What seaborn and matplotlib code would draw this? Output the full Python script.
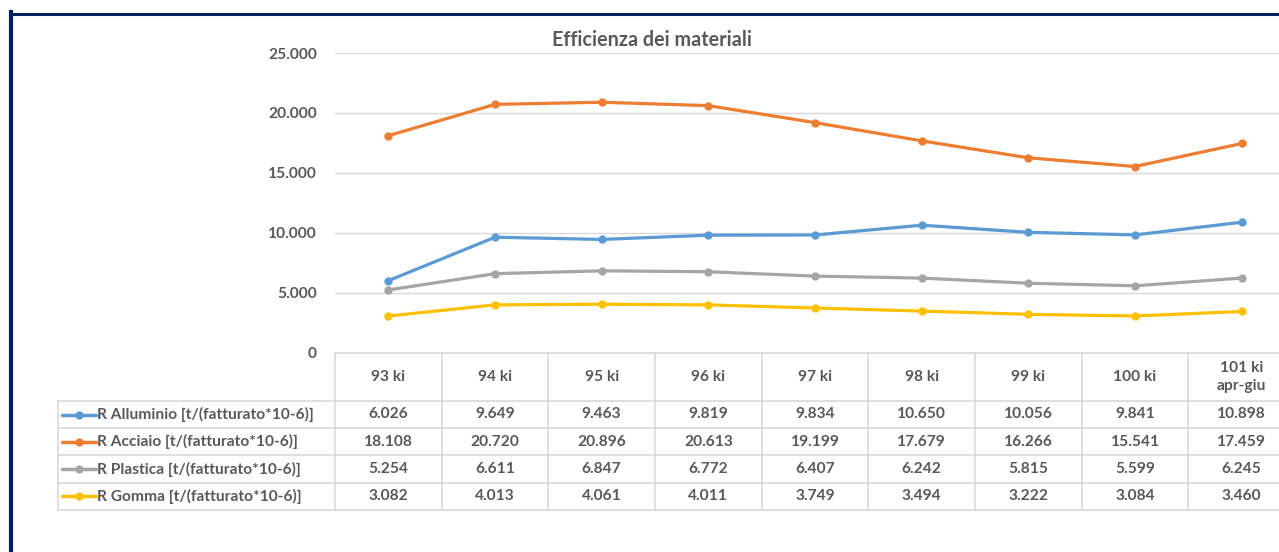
import pandas as pd
import numpy as np
import matplotlib
matplotlib.use("Agg")
import matplotlib.pyplot as plt
import matplotlib.transforms as mtransforms
from matplotlib.lines import Line2D
from matplotlib.ticker import FuncFormatter
import seaborn as sns

# dati
periodi = ["93 ki", "94 ki", "95 ki", "96 ki", "97 ki", "98 ki", "99 ki", "100 ki", "101 ki\napr-giu"]
serie = [
    "R Alluminio [t/(fatturato*10-6)]",
    "R Acciaio [t/(fatturato*10-6)]",
    "R Plastica [t/(fatturato*10-6)]",
    "R Gomma [t/(fatturato*10-6)]",
]
alluminio = [6026, 9649, 9463, 9819, 9834, 10650, 10056, 9841, 10898]
acciaio = [18108, 20720, 20896, 20613, 19199, 17679, 16266, 15541, 17459]
plastica = [5254, 6611, 6847, 6772, 6407, 6242, 5815, 5599, 6245]
gomma = [3082, 4013, 4061, 4011, 3749, 3494, 3222, 3084, 3460]
colori = ["#5b9bd5", "#ed7d31", "#a5a5a5", "#ffc000"]

valori = [alluminio, acciaio, plastica, gomma]
df = pd.DataFrame({
    "pos": list(range(len(periodi))) * len(serie),
    "valore": [v for s in valori for v in s],
    "serie": [n for n in serie for _ in periodi],
})

sns.set_style("white")
plt.rcParams["font.family"] = ["Lato", "DejaVu Sans"]
testo = "#595959"
griglia = "#d9d9d9"
fs = 11.2

W, H = 1279, 552
fig = plt.figure(figsize=(W / 100, H / 100), dpi=100)
# area del grafico: x da 335 a 1295 px, y da 53 a 353 px
ax = fig.add_axes([335 / W, (H - 353) / H, 960 / W, 300 / H])

sns.lineplot(data=df, x="pos", y="valore", hue="serie", palette=colori,
             marker="o", markersize=6, markeredgewidth=0, linewidth=2.3,
             legend=False, ax=ax)

ax.set_xlim(-0.5, len(periodi) - 0.5)
ax.set_ylim(0, 25000)
ax.set_yticks(range(0, 25001, 5000))
ax.yaxis.set_major_formatter(FuncFormatter(lambda v, p: f"{int(v):,}".replace(",", ".")))
ax.set_xticks([])
ax.set_xlabel("")
ax.set_ylabel("")
ax.grid(axis="y", color=griglia, linewidth=1)
for s in ax.spines.values():
    s.set_visible(False)
ax.tick_params(axis="y", length=0, pad=13, labelcolor=testo, labelsize=fs)
for t in ax.get_yticklabels():
    t.set_fontweight("bold")

fig.text(652 / W, 1 - 40 / H, "Efficienza dei materiali", ha="center", va="center",
         fontsize=14.2, fontweight="bold", color=testo)

# tabella dati sotto il grafico
bl = mtransforms.blended_transform_factory(ax.transData, ax.transAxes)
bordi = [0, -0.16, -0.25, -0.34, -0.4333, -0.5233]
sinistra = (58 - 335) / 960
lw = 1.2
ax.plot([-0.5, len(periodi)], [0, 0], transform=bl, color=griglia, lw=lw, clip_on=False)
for yb in bordi[1:]:
    ax.plot([sinistra, 1.1], [yb, yb], transform=ax.transAxes, color=griglia, lw=lw, clip_on=False)
for i in range(len(periodi) + 1):
    ax.plot([i - 0.5, i - 0.5], [0, bordi[-1]], transform=bl, color=griglia, lw=lw, clip_on=False)
ax.plot([sinistra, sinistra], [bordi[1], bordi[-1]], transform=ax.transAxes, color=griglia, lw=lw, clip_on=False)

for i, p in enumerate(periodi):
    ax.text(i, (bordi[0] + bordi[1]) / 2, p, transform=bl, ha="center", va="center",
            fontsize=fs, fontweight="bold", color=testo, linespacing=1.3)

for r, (nome, vals, col) in enumerate(zip(serie, valori, colori)):
    yc = (bordi[r + 1] + bordi[r + 2]) / 2
    ax.add_line(Line2D([(62 - 335) / 960, (96 - 335) / 960], [yc, yc], transform=ax.transAxes,
                       color=col, lw=2.5, clip_on=False))
    ax.add_line(Line2D([(79 - 335) / 960], [yc], transform=ax.transAxes, marker="o",
                       markersize=6, markeredgewidth=0, color=col, clip_on=False))
    ax.text((97 - 335) / 960, yc, nome, transform=ax.transAxes, ha="left", va="center",
            fontsize=fs, fontweight="bold", color=testo)
    for i, v in enumerate(vals):
        ax.text(i, yc, f"{v:,}".replace(",", "."), transform=bl, ha="center", va="center",
                fontsize=fs, fontweight="bold", color=testo)

# cornice blu scuro
blu = "#002060"
fig.add_artist(Line2D([11 / W, 11 / W], [0, 1 - 12 / H], color=blu, lw=3, solid_capstyle="projecting"))
fig.add_artist(Line2D([11 / W, 1], [1 - 13.7 / H, 1 - 13.7 / H], color=blu, lw=2.2, solid_capstyle="projecting"))

fig.savefig("out.png", dpi=100, facecolor="white")
